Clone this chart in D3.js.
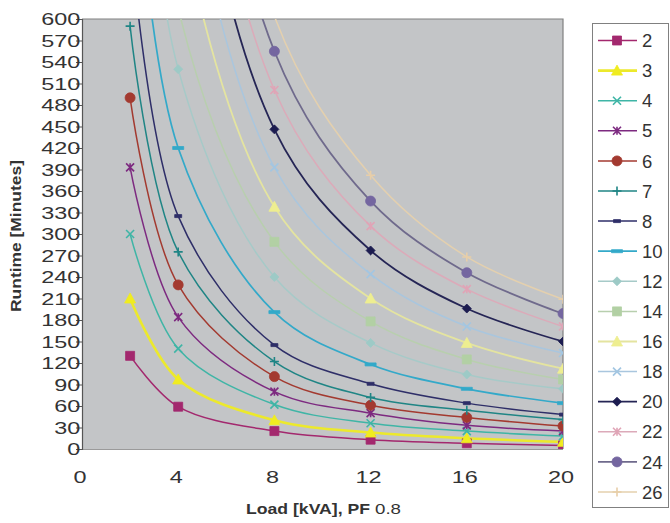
<!DOCTYPE html>
<html><head><meta charset="utf-8">
<script src="https://cdn.jsdelivr.net/npm/d3@7"></script>
<style>body{margin:0;background:#fff}text{font-family:"Liberation Sans",Arial,sans-serif}</style>
</head><body>
<svg id="chart" width="670" height="523"></svg>
<script>
// ---- data ----
const loads = [2, 4, 8, 12, 16, 20];
const seriesNames = ["2","3","4","5","6","7","8","10","12","14","16","18","20","22","24","26"];
const rt2  = [130, 59, 25, 13, 8, 5];
const rt3  = [210, 97, 40, 23, 15, 10];
const rt4  = [300, 140, 62, 36, 25, 18];
const rt5  = [393, 184, 80, 50, 33, 25];
const rt6  = [490, 229, 101, 61, 44, 32];
const rt7  = [590, 275, 122, 72, 54, 41];
const rt8  = [720, 325, 145, 91, 64, 48];
const rt10 = [925, 420, 191, 118, 84, 64];
const rt12 = [1170, 530, 240, 148, 104, 84];
const rt14 = [1360, 615, 289, 178, 125, 97];
const rt16 = [1650, 760, 338, 210, 148, 112];
const rt18 = [1950, 890, 393, 244, 171, 134];
const rt20 = [2250, 1010, 446, 277, 196, 150];
const rt22 = [2500, 1130, 501, 311, 223, 171];
const rt24 = [2800, 1250, 555, 346, 246, 189];
const rt26 = [3050, 1370, 604, 382, 268, 209];
const seriesValues = [rt2, rt3, rt4, rt5, rt6, rt7, rt8, rt10, rt12, rt14, rt16, rt18, rt20, rt22, rt24, rt26];
const xTickLabels = [0, 4, 8, 12, 16, 20];
const yTickLabels = [0,30,60,90,120,150,180,210,240,270,300,330,360,390,420,450,480,510,540,570,600];

// ---- styles ----
const colors = ["#a3286e","#ece92c","#3fb5a6","#7d2a80","#a33a30","#1f8585","#2e2e68","#33a9c9",
                "#a6cac8","#b8cfae","#e4e4a0","#a9c6de","#252555","#dcaab9","#6f6a8c","#e4d0ae"];
const markerColors = ["#a3286e","#f0ec20","#3fb5a6","#7d2a80","#a33a30","#1f8585","#2e2e68","#33a9c9",
                "#9dcac6","#b2d0a4","#eeee90","#a2c6e2","#1c1c50","#e0a4b6","#7466a0","#e8cea8"];
const shapes = ["square","triangle","x","asterisk","circle","plus","dashS","dashL",
                "diamond","square","triangle","x","diamond","asterisk","circle","plus"];
const widths = [1.5,2.6,1.5,1.5,1.5,1.5,1.5,1.7,1.5,1.5,1.8,1.5,1.8,1.5,1.8,1.5];

const svg = d3.select("#chart");
const L = 82, R = 563, T = 19, B = 449;
const x = d3.scaleLinear().domain([0, 20]).range([L, R]);
const y = d3.scaleLinear().domain([0, 600]).range([B, T]);

svg.append("rect").attr("x", L).attr("y", T).attr("width", R - L).attr("height", B - T)
  .attr("fill", "#c3c5c7");
svg.append("path").attr("d", `M${L},${T}H${R}V${B}`).attr("fill", "none").attr("stroke", "#808080").attr("stroke-width", 1.2);
svg.append("line").attr("x1", L).attr("x2", R).attr("y1", B + 0.5).attr("y2", B + 0.5).attr("stroke", "#9a9a9a");

svg.append("clipPath").attr("id", "clip").append("rect")
  .attr("x", L).attr("y", T).attr("width", R - L).attr("height", B - T);

function markerPath(shape, s) {
  const h = s / 2;
  switch (shape) {
    case "square": return `M${-h},${-h}h${s}v${s}h${-s}Z`;
    case "triangle": return `M0,${-h - 1}L${h + 1},${h}L${-h - 1},${h}Z`;
    case "diamond": return `M0,${-h}L${h},0L0,${h}L${-h},0Z`;
    case "circle": return d3.symbol(d3.symbolCircle, Math.PI * h * h)();
    case "x": return `M${-h},${-h}L${h},${h}M${h},${-h}L${-h},${h}`;
    case "asterisk": return `M${-h},${-h}L${h},${h}M${h},${-h}L${-h},${h}M0,${-h}V${h}`;
    case "plus": return `M0,${-h}V${h}M${-h},0H${h}`;
    case "dashS": return `M${-h},-1.5h${s}v3h${-s}Z`;
    case "dashL": return `M${-h - 1},-1.5h${s + 2}v3h${-s - 2}Z`;
  }
}
const stroked = new Set(["x", "asterisk", "plus"]);
function drawMarker(g, shape, col, cx, cy, s) {
  g.append("path").attr("d", markerPath(shape, s))
    .attr("transform", `translate(${cx},${cy})`)
    .attr("fill", stroked.has(shape) ? "none" : col)
    .attr("stroke", col).attr("stroke-width", stroked.has(shape) ? 1.6 : 0.8);
}
const sizes = {square: 9, triangle: 9, diamond: 9, circle: 10, x: 8, asterisk: 8, plus: 9, dashS: 7, dashL: 9};

const plot = svg.append("g").attr("clip-path", "url(#clip)");
const line = d3.line().x(d => x(d[0])).y(d => y(d[1])).curve(d3.curveCatmullRom.alpha(0.5));

seriesValues.forEach((vals, i) => {
  const pts = loads.map((l, j) => [l, vals[j]]);
  plot.append("path").attr("d", line(pts)).attr("fill", "none")
    .attr("stroke", colors[i]).attr("stroke-width", widths[i]);
});
seriesValues.forEach((vals, i) => {
  loads.forEach((l, j) => {
    if (vals[j] <= 600) drawMarker(plot, shapes[i], markerColors[i], x(l), y(vals[j]), sizes[shapes[i]]);
  });
});

// ---- axes ----
const yAxis = svg.append("g").attr("transform", `translate(${L},0)`)
  .call(d3.axisLeft(y).tickValues(yTickLabels).tickSize(6).tickPadding(3));
yAxis.select(".domain").attr("stroke", "#555").attr("stroke-width", 1.2);
yAxis.selectAll(".tick line").attr("stroke", "#555");
yAxis.selectAll("text").attr("font-size", 16.5).attr("fill", "#333").attr("font-family", "Liberation Sans")
  .attr("transform", function () { const xx = +d3.select(this).attr("x"); return `translate(${xx},0) scale(1.42,1) translate(${-xx},0)`; })
  .attr("x", -5.5 / 1.42).attr("dy", "0.35em");

const xAxis = svg.append("g").attr("transform", `translate(0,${B})`)
  .call(d3.axisBottom(x).tickValues(xTickLabels).tickSize(0).tickPadding(22));
xAxis.select(".domain").remove();
xAxis.selectAll("text").attr("font-size", 16.5).attr("fill", "#333").attr("font-family", "Liberation Sans")
  .attr("transform", "scale(1.42,1)").attr("x", 0).attr("dx", -1 / 1.42)
  .each(function (d) { d3.select(this.parentNode).attr("transform", `translate(${x(d) - 1},0)`); });

// ---- titles ----
svg.append("text").attr("x", 246).attr("y", 514).attr("font-size", 15).attr("font-weight", "bold")
  .attr("fill", "#333").attr("textLength", 124).attr("lengthAdjust", "spacingAndGlyphs").text("Load [kVA], PF");
svg.append("text").attr("x", 375).attr("y", 514).attr("font-size", 15)
  .attr("fill", "#333").attr("textLength", 26).attr("lengthAdjust", "spacingAndGlyphs").text("0.8");
svg.append("text").attr("transform", "translate(21,236) rotate(-90)").attr("text-anchor", "middle")
  .attr("font-size", 15).attr("font-weight", "bold").attr("fill", "#333")
  .attr("textLength", 152).attr("lengthAdjust", "spacingAndGlyphs").text("Runtime [Minutes]");

// ---- legend ----
const lg = svg.append("g");
lg.append("rect").attr("x", 592.5).attr("y", 23.5).attr("width", 76).attr("height", 484)
  .attr("fill", "#fff").attr("stroke", "#808080");
seriesNames.forEach((n, i) => {
  const cy = 40.5 + i * 30.1;
  lg.append("line").attr("x1", 598).attr("x2", 637).attr("y1", cy).attr("y2", cy)
    .attr("stroke", colors[i]).attr("stroke-width", widths[i]);
  drawMarker(lg, shapes[i], markerColors[i], 617, cy, sizes[shapes[i]]);
  lg.append("text").attr("x", 642).attr("y", cy).attr("dy", "0.36em").attr("font-size", 18.5)
    .attr("fill", "#333").text(n);
});
</script>
</body></html>
